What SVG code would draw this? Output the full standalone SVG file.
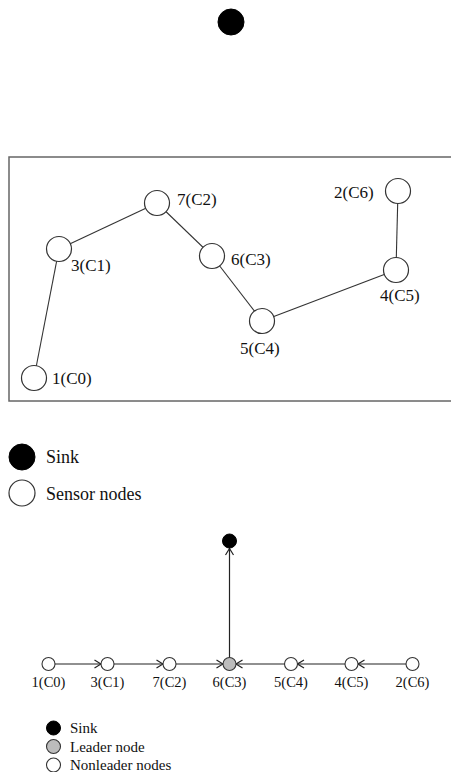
<svg xmlns="http://www.w3.org/2000/svg" width="451" height="772" viewBox="0 0 451 772">
  <style>
    .node { fill: #fff; stroke: #333; stroke-width: 1.2; }
    .sink { fill: #000; stroke: #000; stroke-width: 1; }
    .leader { fill: #bcbcbc; stroke: #333; stroke-width: 1.1; }
    .small { fill: #fff; stroke: #333; stroke-width: 1.1; }
    .edge { stroke: #333; stroke-width: 1.1; fill: none; }
    .arrow { stroke: #222; stroke-width: 1.2; fill: none; }
    .lbl { font-family: "Liberation Serif", "Times New Roman", serif; font-size: 17px; fill: #111; }
    .lbl2 { font-family: "Liberation Serif", "Times New Roman", serif; font-size: 14.5px; fill: #111; text-anchor: middle; }
    .leg { font-family: "Liberation Serif", "Times New Roman", serif; font-size: 18px; fill: #111; }
    .leg2 { font-family: "Liberation Serif", "Times New Roman", serif; font-size: 15px; fill: #111; }
  </style>
  <defs>
    <marker id="open" viewBox="0 0 8 10" refX="7.5" refY="5" markerWidth="8" markerHeight="10" markerUnits="userSpaceOnUse" orient="auto">
      <path d="M1,1 L7.5,5 L1,9" fill="none" stroke="#222" stroke-width="1.2"/>
    </marker>
  </defs>

  <!-- sink above the field -->
  <g id="sink-top">
    <circle class="sink" cx="231" cy="22" r="13"/>
  </g>

  <!-- deployment field -->
  <rect x="9" y="157" width="450" height="244" fill="none" stroke="#666" stroke-width="1.5"/>

  <g id="field-links">
    <line class="edge" x1="34" y1="378" x2="59" y2="249"/>
    <line class="edge" x1="59" y1="249" x2="157" y2="203"/>
    <line class="edge" x1="157" y1="203" x2="212" y2="256"/>
    <line class="edge" x1="212" y1="256" x2="262" y2="321"/>
    <line class="edge" x1="262" y1="321" x2="396" y2="270"/>
    <line class="edge" x1="396" y1="270" x2="398" y2="191"/>
  </g>

  <g id="f1"><circle class="node" cx="34" cy="378" r="12.5"/><text class="lbl" x="52" y="384">1(C0)</text></g>
  <g id="f3"><circle class="node" cx="59" cy="249" r="12.5"/><text class="lbl" x="71" y="271">3(C1)</text></g>
  <g id="f7"><circle class="node" cx="157" cy="203" r="12.5"/><text class="lbl" x="177" y="205">7(C2)</text></g>
  <g id="f6"><circle class="node" cx="212" cy="256" r="12.5"/><text class="lbl" x="231" y="265">6(C3)</text></g>
  <g id="f5"><circle class="node" cx="262" cy="321" r="12.5"/><text class="lbl" x="240" y="354">5(C4)</text></g>
  <g id="f4"><circle class="node" cx="396" cy="270" r="12.5"/><text class="lbl" x="380" y="301">4(C5)</text></g>
  <g id="f2"><circle class="node" cx="398" cy="191" r="12.5"/><text class="lbl" x="334" y="198">2(C6)</text></g>

  <!-- legend 1 -->
  <g id="legend-top">
    <circle class="sink" cx="22" cy="457" r="13"/>
    <text class="leg" x="46" y="463">Sink</text>
    <circle class="node" cx="22" cy="493" r="13"/>
    <text class="leg" x="46" y="500">Sensor nodes</text>
  </g>

  <!-- chain toward the leader -->
  <g id="chain-links">
    <line class="arrow" x1="55" y1="664" x2="101" y2="664" marker-end="url(#open)"/>
    <line class="arrow" x1="114" y1="664" x2="163" y2="664" marker-end="url(#open)"/>
    <line class="arrow" x1="176" y1="664" x2="223" y2="664" marker-end="url(#open)"/>
    <line class="arrow" x1="284.5" y1="664" x2="236" y2="664" marker-end="url(#open)"/>
    <line class="arrow" x1="345" y1="664" x2="297.5" y2="664" marker-end="url(#open)"/>
    <line class="arrow" x1="406" y1="664" x2="358" y2="664" marker-end="url(#open)"/>
    <line class="arrow" x1="229.5" y1="657.5" x2="229.5" y2="548.5" marker-end="url(#open)"/>
  </g>

  <g id="sink-chain"><circle class="sink" cx="229.5" cy="541" r="7"/></g>
  <g id="c1"><circle class="small" cx="48.5" cy="664" r="6.5"/><text class="lbl2" x="48.5" y="687">1(C0)</text></g>
  <g id="c3"><circle class="small" cx="107.5" cy="664" r="6.5"/><text class="lbl2" x="107.5" y="687">3(C1)</text></g>
  <g id="c7"><circle class="small" cx="169.5" cy="664" r="6.5"/><text class="lbl2" x="169.5" y="687">7(C2)</text></g>
  <g id="c6"><circle class="leader" cx="229.5" cy="664" r="6.5"/><text class="lbl2" x="229.5" y="687">6(C3)</text></g>
  <g id="c5"><circle class="small" cx="291" cy="664" r="6.5"/><text class="lbl2" x="291" y="687">5(C4)</text></g>
  <g id="c4"><circle class="small" cx="351.5" cy="664" r="6.5"/><text class="lbl2" x="351.5" y="687">4(C5)</text></g>
  <g id="c2"><circle class="small" cx="412.5" cy="664" r="6.5"/><text class="lbl2" x="412.5" y="687">2(C6)</text></g>

  <!-- legend 2 -->
  <g id="legend-bottom">
    <circle class="sink" cx="53.5" cy="728" r="7"/>
    <text class="leg2" x="70" y="732.5">Sink</text>
    <circle class="leader" cx="53.5" cy="746.5" r="7"/>
    <text class="leg2" x="70" y="751.5">Leader node</text>
    <circle class="small" cx="53.5" cy="765" r="7"/>
    <text class="leg2" x="70" y="770">Nonleader nodes</text>
  </g>
</svg>
